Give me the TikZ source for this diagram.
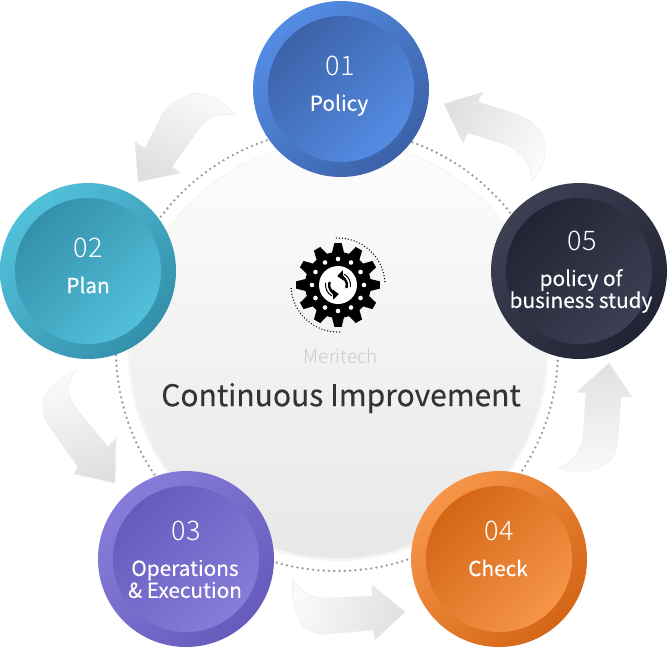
\documentclass[tikz,border=0pt]{standalone}
\usepackage{fontspec}
\setmainfont{Noto Sans CJK KR}[FakeBold=0.25]
\newfontfamily\thinfont{Noto Sans CJK KR Light}
\usetikzlibrary{arrows,arrows.meta}
\usetikzlibrary{calc}
\definecolor{bluea}{RGB}{84,140,228}
\definecolor{blueb}{RGB}{60,98,168}
\definecolor{cyana}{RGB}{82,192,218}
\definecolor{cyanb}{RGB}{52,144,170}
\definecolor{violeta}{RGB}{136,124,218}
\definecolor{violetb}{RGB}{102,90,188}
\definecolor{orangea}{RGB}{246,148,72}
\definecolor{orangeb}{RGB}{212,102,22}
\definecolor{nighta}{RGB}{60,64,82}
\definecolor{nightb}{RGB}{32,36,52}
\tikzset{
	ring/.style 2 args={circle, inner sep=0, minimum size=176pt, top color=#1, bottom color=#2, shading angle=45},
	core/.style 2 args={circle, inner sep=0, minimum size=146pt, top color=#2, bottom color=#1, shading angle=45},
	num/.style={text=white, font=\thinfont\fontsize{27}{27}\selectfont},
	word/.style={text=white, align=center, font=\fontsize{20.8}{22}\selectfont},
	flowarrow/.style={draw=black!8, line width=0.4pt, top color=black!2, bottom color=black!12, shading angle=#1},
}
\begin{document}
\begin{tikzpicture}[x=1pt,y=-1pt]
	\useasboundingbox (0,0) rectangle (668,648);
	% big disc
	\node[circle, inner sep=0, minimum size=442pt, draw=black!40, line cap=round, dash pattern=on 0pt off 5.3pt, line width=2.6pt] (R) at (337,350) {};
	\fill[black!4] (338,351) circle (210);
	\node[circle, inner sep=0, minimum size=416pt, top color=black!1, bottom color=black!9] (D) at (338,350) {};

	% arrows
	\path[flowarrow=-30] (235,115) .. controls (222,98) and (200,88) .. (186,96) .. controls (176,100) and (170,104) .. (163,113) -- (145,148) -- (135,142) -- (138,182) -- (181,173) -- (172,167) -- (200,127) .. controls (205,120) and (218,112) .. (235,115) -- cycle;
	\path[flowarrow=-120] (444,104) -- (483,92) -- (478,102) -- (513,113) .. controls (530,118) and (546,130) .. (545,150) .. controls (545,165) and (538,172) .. (532,182) .. controls (530,165) and (525,155) .. (507,145) -- (468,133) -- (463,143) -- cycle;
	\path[flowarrow=20] (77,370) .. controls (60,378) and (43,390) .. (43,405) .. controls (43,415) and (45,420) .. (50,427) -- (78,467) -- (74,474) -- (115,483) -- (116,438) -- (108,447) -- (80,413) .. controls (70,400) and (62,388) .. (77,370) -- cycle;
	\path[flowarrow=80] (293,578) .. controls (291,595) and (293,610) .. (303,626) .. controls (310,632) and (316,634) .. (325,634) -- (373,630) -- (375,640) -- (405,612) -- (372,585) -- (372,596) -- (327,598) .. controls (310,598) and (298,590) .. (293,578) -- cycle;
	\path[flowarrow=180] (558,468) .. controls (575,474) and (595,472) .. (608,462) .. controls (615,456) and (618,448) .. (618,438) -- (621,397) -- (632,397) -- (609,363) -- (577,392) -- (586,393) -- (583,437) .. controls (582,448) and (574,462) .. (558,468) -- cycle;

	% gear
	\begin{scope}[shift={(338,285)},x=1pt,y=1pt]
		\node[circle, fill=black, inner sep=0, minimum size=66pt] (G) at (0,0) {};
		\foreach \a in {0,30,...,330}{
			\fill[black] (\a-13:30) -- (\a-5:42) -- (\a+5:42) -- (\a+13:30) -- cycle;
			\fill[white] (\a:26) circle (2.3);
		}
		\node[circle, fill=white, inner sep=0, minimum size=38pt] (H) at (0,0) {};
		\foreach \a in {0,180}{
			\draw[black, line width=2.4pt, -{Triangle[length=6pt,width=10pt]}] (\a-20:9) arc[start angle=\a-20, end angle=\a+95, radius=9pt];
			\draw[black, line width=1pt] (\a-10:12.5) arc[start angle=\a-10, end angle=\a+60, radius=12.5pt];
		}
		\draw[black, line cap=round, dash pattern=on 0pt off 3pt, line width=1.4pt] (92:47) arc[start angle=92, end angle=4, radius=47pt];
		\draw[black, line cap=round, dash pattern=on 0pt off 3pt, line width=1.4pt] (272:47) arc[start angle=272, end angle=184, radius=47pt];
	\end{scope}

	\node[text=black!20, font=\thinfont\fontsize{19}{19}\selectfont] (M) at (341,356) {Meritech};
	\node[text=black!80, font=\fontsize{30}{30}\selectfont] (T) at (341,398) {Continuous Improvement};

	% steps
	\node[ring={bluea}{blueb}] (A1) at (341,89) {};
	\node[core={bluea}{blueb}] (B1) at (341,89) {};
	\node[ring={cyana}{cyanb}] (A2) at (88,271) {};
	\node[core={cyana}{cyanb}] (B2) at (88,271) {};
	\node[ring={violeta}{violetb}] (A3) at (186,559) {};
	\node[core={violeta}{violetb}] (B3) at (186,559) {};
	\node[ring={orangea}{orangeb}] (A4) at (499,559) {};
	\node[core={orangea}{orangeb}] (B4) at (499,559) {};
	\node[ring={nighta}{nightb}] (A5) at (579,271) {};
	\node[core={nighta}{nightb}] (B5) at (579,271) {};

	\node[num] (N1) at (340,66) {01};
	\node[word] (W1) at (339,105) {Policy};
	\node[num] (N2) at (88,248) {02};
	\node[word] (W2) at (88,285) {Plan};
	\node[num] (N3) at (186,531) {03};
	\node[word] (W3) at (185,579) {Operations\\\& Execution};
	\node[num] (N4) at (499,531) {04};
	\node[word] (W4) at (498,568) {Check};
	\node[num] (N5) at (582,241) {05};
	\node[word] (W5) at (581,291) {policy of\\business study};
\end{tikzpicture}
\end{document}
